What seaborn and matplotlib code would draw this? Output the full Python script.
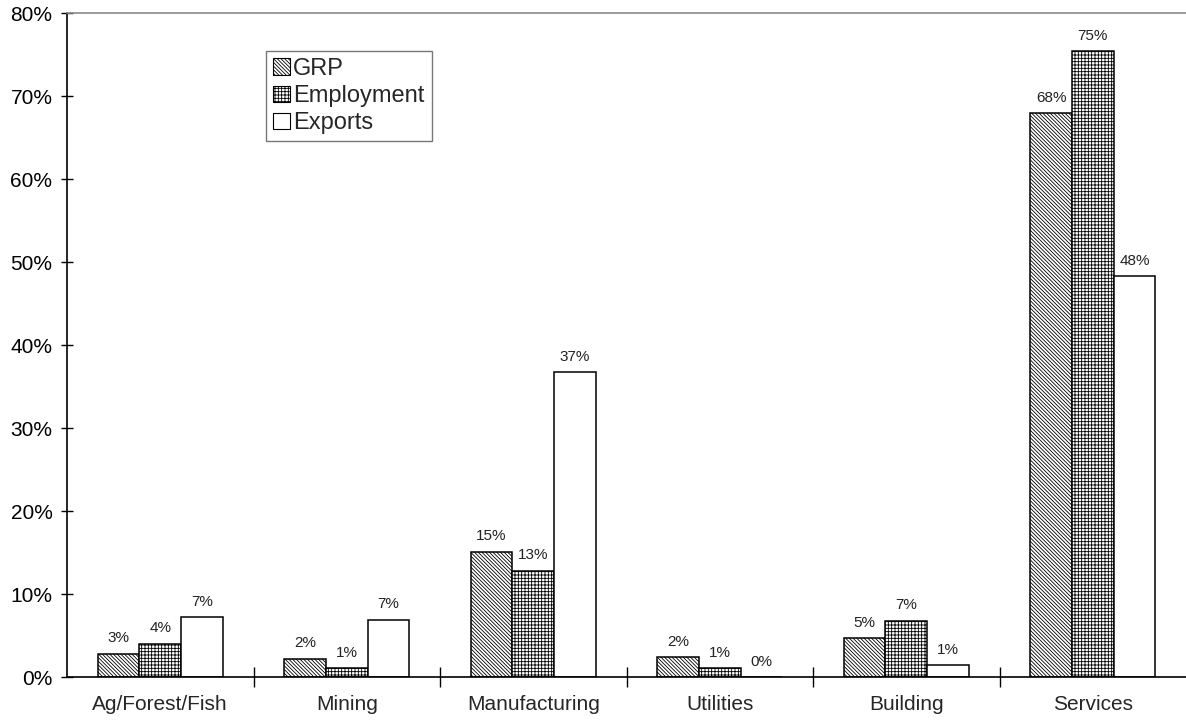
import matplotlib
matplotlib.use("Agg")
import matplotlib.pyplot as plt
from matplotlib.patches import Patch
from matplotlib.ticker import FixedLocator, FuncFormatter
import seaborn as sns
import pandas as pd

# Shares by industry (percent)
sectors = ["Ag/Forest/Fish", "Mining", "Manufacturing", "Utilities", "Building", "Services"]
grp = [2.8, 2.2, 15.1, 2.4, 4.7, 67.9]
employment = [4.0, 1.1, 12.8, 1.1, 6.8, 75.4]
exports = [7.2, 6.9, 36.7, 0.0, 1.4, 48.3]
series_names = ["GRP", "Employment", "Exports"]
y_ticks = [0, 10, 20, 30, 40, 50, 60, 70, 80]

df = pd.DataFrame({
    "sector": sectors * 3,
    "series": [s for s in series_names for _ in sectors],
    "share": grp + employment + exports,
})

sns.set_style("white")
plt.rcParams["font.family"] = ["Liberation Sans", "DejaVu Sans"]
plt.rcParams["hatch.linewidth"] = 0.6

fig = plt.figure(figsize=(11.86, 7.23), dpi=100)
ax = fig.add_axes([0.0565, 0.0636, 0.9435, 0.9184])

sns.barplot(data=df, x="sector", y="share", hue="series", order=sectors,
            hue_order=series_names, palette=["white"] * 3, width=0.67,
            edgecolor="black", linewidth=1.1, legend=False, ax=ax)

hatches = {"GRP": "\\" * 9, "Employment": "+" * 5, "Exports": ""}
for cont, name in zip(ax.containers, series_names):
    for bar in cont:
        bar.set_hatch(hatches[name])
    ax.bar_label(cont, labels=[f"{v:.0f}%" for v in cont.datavalues],
                 padding=6, fontsize=11, color="#222222")

ax.set_ylim(0, 80)
ax.set_xlim(-0.5, 5.5)
ax.yaxis.set_major_locator(FixedLocator(y_ticks))
ax.yaxis.set_major_formatter(FuncFormatter(lambda v, _: f"{v:.0f}%"))
ax.tick_params(axis="y", direction="inout", length=9, width=1, left=True,
               labelsize=15, pad=6, colors="black")
ax.tick_params(axis="x", which="major", length=0, labelsize=15, pad=13)
ax.set_xticks([i - 0.5 for i in range(1, 6)], minor=True)
ax.tick_params(axis="x", which="minor", direction="inout", length=14,
               width=1, bottom=True, color="black")
ax.set_xlabel("")
ax.set_ylabel("")

for side in ["left", "bottom"]:
    ax.spines[side].set_color("black")
    ax.spines[side].set_linewidth(1.2)
ax.spines["top"].set_color("#8a8a8a")
ax.spines["top"].set_linewidth(1.2)
ax.spines["right"].set_visible(False)

handles = [Patch(facecolor="white", edgecolor="black", hatch=hatches[n],
                 linewidth=0.8) for n in series_names]
leg = ax.legend(handles, series_names, loc="upper left",
                bbox_to_anchor=(0.178, 0.943), fontsize=17, frameon=True,
                fancybox=False, edgecolor="#555555", handlelength=0.7,
                handleheight=0.7, handletextpad=0.15, labelspacing=0.22,
                borderpad=0.3, borderaxespad=0)
leg.get_frame().set_linewidth(1.0)

fig.savefig("out.png", dpi=100)
